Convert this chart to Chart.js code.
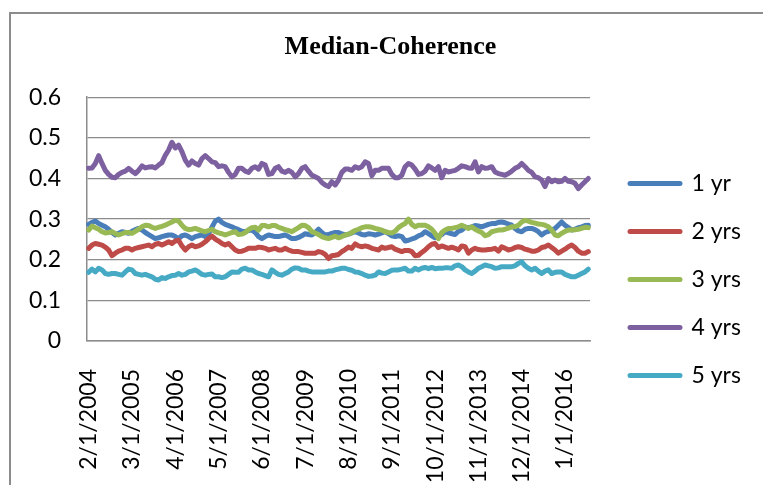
<!DOCTYPE html>
<html>
<head>
<meta charset="utf-8">
<script src="https://cdn.jsdelivr.net/npm/chart.js@4.4.1/dist/chart.umd.min.js"></script>
<style>
html, body { margin: 0; padding: 0; background: #fff; }
#frame { position: absolute; left: 9px; top: 12px; width: 800px; height: 500px;
  border-left: 2px solid #8c8c8c; border-top: 2px solid #8c8c8c; }
#c { position: absolute; left: 0; top: 0; }
</style>
</head>
<body>
<div id="frame"></div>
<canvas id="c" width="763" height="485"></canvas>
<script>
// monthly observations, Feb 2004 .. Aug 2016
var labels = [];
for (var i = 0; i < 151; i++) {
  labels.push(((1 + i) % 12 + 1) + '/1/' + (2004 + Math.floor((1 + i) / 12)));
}
var labelEvery = 13;

var seriesNames = ['1 yr', '2 yrs', '3 yrs', '4 yrs', '5 yrs'];
var seriesColors = ['#4A7EBB', '#BE4B48', '#98B954', '#7D60A0', '#46AAC5'];

var yr1 = [0.287,0.292,0.295,0.289,0.285,0.281,0.275,0.267,0.261,0.265,0.269,0.267,0.265,0.270,0.274,0.277,0.273,0.267,0.262,0.257,0.252,0.254,0.257,0.259,0.261,0.261,0.257,0.252,0.259,0.261,0.257,0.252,0.257,0.259,0.261,0.257,0.264,0.280,
  0.295,0.300,0.292,0.287,0.284,0.281,0.277,0.274,0.270,0.269,0.272,0.273,0.267,0.257,0.252,0.257,0.261,0.259,0.257,0.257,0.259,0.261,0.257,0.252,0.252,0.255,0.259,0.264,0.262,0.261,0.267,0.275,0.267,0.261,0.262,0.265,0.267,
  0.267,0.264,0.261,0.263,0.266,0.269,0.266,0.262,0.261,0.264,0.263,0.261,0.263,0.266,0.269,0.264,0.259,0.257,0.259,0.257,0.246,0.248,0.251,0.254,0.259,0.262,0.269,0.264,0.259,0.254,0.258,0.262,0.269,0.266,0.264,0.262,0.270,0.273,
  0.280,0.279,0.281,0.284,0.283,0.281,0.284,0.287,0.289,0.289,0.292,0.293,0.291,0.288,0.285,0.277,0.271,0.269,0.275,0.277,0.277,0.274,0.269,0.261,0.267,0.270,0.273,0.277,0.285,0.293,0.285,0.279,0.273,0.275,0.279,0.281,0.284,0.285];

var yrs2 = [0.228,0.236,0.240,0.238,0.236,0.231,0.224,0.210,0.216,0.221,0.224,0.228,0.228,0.224,0.228,0.230,0.232,0.234,0.236,0.232,0.238,0.240,0.236,0.240,0.244,0.240,0.246,0.248,0.234,0.224,0.232,0.236,0.232,0.234,0.238,0.244,0.252,0.258,
  0.251,0.246,0.240,0.236,0.240,0.232,0.224,0.220,0.221,0.224,0.228,0.228,0.228,0.231,0.230,0.228,0.224,0.226,0.228,0.224,0.224,0.228,0.224,0.221,0.220,0.220,0.218,0.216,0.216,0.216,0.216,0.220,0.218,0.213,0.203,0.210,0.211,
  0.213,0.220,0.225,0.231,0.228,0.239,0.234,0.232,0.234,0.232,0.228,0.226,0.224,0.231,0.228,0.230,0.232,0.226,0.223,0.220,0.223,0.223,0.220,0.210,0.211,0.218,0.224,0.232,0.238,0.240,0.230,0.234,0.231,0.228,0.231,0.228,0.224,0.234,
  0.232,0.216,0.224,0.228,0.225,0.224,0.224,0.225,0.226,0.228,0.221,0.232,0.228,0.224,0.226,0.230,0.232,0.230,0.226,0.224,0.221,0.221,0.224,0.230,0.232,0.236,0.230,0.224,0.216,0.221,0.226,0.232,0.236,0.230,0.221,0.216,0.216,0.220];

var yrs3 = [0.273,0.283,0.279,0.275,0.269,0.266,0.267,0.269,0.264,0.261,0.264,0.267,0.267,0.265,0.270,0.275,0.281,0.285,0.284,0.280,0.277,0.280,0.282,0.285,0.289,0.293,0.297,0.295,0.285,0.277,0.274,0.275,0.277,0.274,0.271,0.269,0.272,0.275,
  0.269,0.266,0.264,0.261,0.264,0.267,0.269,0.262,0.263,0.267,0.274,0.279,0.280,0.273,0.284,0.284,0.281,0.284,0.284,0.280,0.277,0.274,0.272,0.269,0.274,0.279,0.285,0.284,0.279,0.269,0.266,0.262,0.257,0.254,0.252,0.255,0.258,
  0.254,0.257,0.261,0.263,0.267,0.272,0.275,0.279,0.281,0.281,0.280,0.277,0.275,0.273,0.269,0.267,0.266,0.270,0.279,0.285,0.289,0.300,0.287,0.281,0.285,0.285,0.285,0.281,0.275,0.265,0.252,0.267,0.273,0.277,0.277,0.279,0.281,0.285,
  0.281,0.277,0.281,0.275,0.271,0.267,0.259,0.262,0.269,0.271,0.273,0.273,0.275,0.278,0.281,0.281,0.285,0.293,0.297,0.295,0.292,0.290,0.288,0.287,0.285,0.281,0.273,0.261,0.259,0.265,0.270,0.273,0.273,0.274,0.275,0.277,0.280,0.279];

var yrs4 = [0.425,0.426,0.437,0.456,0.437,0.420,0.410,0.403,0.402,0.410,0.415,0.418,0.425,0.418,0.412,0.420,0.431,0.426,0.428,0.429,0.426,0.433,0.439,0.457,0.470,0.489,0.475,0.482,0.466,0.445,0.433,0.443,0.437,0.433,0.449,0.456,0.449,0.441,
  0.439,0.429,0.431,0.429,0.415,0.404,0.410,0.425,0.425,0.418,0.415,0.425,0.429,0.423,0.437,0.433,0.410,0.412,0.425,0.429,0.418,0.415,0.420,0.415,0.404,0.412,0.425,0.429,0.418,0.408,0.404,0.400,0.390,0.384,0.380,0.392,0.384,
  0.396,0.415,0.423,0.423,0.420,0.429,0.425,0.429,0.441,0.437,0.407,0.420,0.420,0.425,0.425,0.425,0.410,0.402,0.402,0.408,0.429,0.437,0.433,0.423,0.410,0.412,0.418,0.431,0.426,0.420,0.429,0.402,0.420,0.416,0.418,0.420,0.425,0.431,
  0.429,0.426,0.425,0.441,0.416,0.429,0.425,0.426,0.429,0.416,0.412,0.410,0.408,0.412,0.418,0.425,0.429,0.437,0.429,0.420,0.415,0.404,0.402,0.396,0.380,0.400,0.392,0.396,0.392,0.393,0.400,0.393,0.392,0.388,0.375,0.384,0.392,0.400];

var yrs5 = [0.169,0.177,0.170,0.179,0.175,0.166,0.164,0.166,0.166,0.164,0.162,0.170,0.177,0.175,0.166,0.164,0.162,0.164,0.161,0.158,0.152,0.150,0.156,0.154,0.158,0.161,0.162,0.166,0.162,0.164,0.170,0.172,0.175,0.170,0.164,0.162,0.164,0.165,
  0.158,0.158,0.156,0.158,0.164,0.170,0.169,0.169,0.177,0.179,0.175,0.175,0.170,0.166,0.164,0.161,0.158,0.175,0.169,0.164,0.162,0.166,0.170,0.177,0.180,0.179,0.175,0.175,0.172,0.170,0.170,0.170,0.170,0.170,0.172,0.172,0.175,
  0.177,0.179,0.179,0.176,0.174,0.170,0.169,0.166,0.162,0.159,0.160,0.162,0.170,0.167,0.166,0.170,0.174,0.175,0.175,0.177,0.179,0.172,0.172,0.179,0.175,0.179,0.181,0.178,0.181,0.178,0.179,0.179,0.180,0.180,0.179,0.185,0.187,0.183,
  0.175,0.170,0.166,0.172,0.179,0.183,0.187,0.185,0.183,0.179,0.180,0.183,0.183,0.183,0.183,0.185,0.191,0.195,0.185,0.179,0.175,0.179,0.172,0.166,0.172,0.175,0.166,0.169,0.170,0.170,0.164,0.161,0.158,0.158,0.162,0.166,0.170,0.177];

var seriesData = [yr1, yrs2, yrs3, yrs4, yrs5];

var tickFont = { family: 'Lato', size: 23 };

// excel-like legend placement: fixed legend width, then slide it into place
var legendNudge = {
  id: 'legendNudge',
  beforeLayout: function(chart) {
    var lg = chart.legend;
    if (lg && !lg._fixedWidth) {
      var fit = lg.fit;
      lg.fit = function() { fit.call(this); this.width = 173; };
      lg._fixedWidth = true;
    }
  },
  afterLayout: function(chart) {
    var lg = chart.legend;
    lg.left += 15; lg.right += 15; lg.top += 37; lg.bottom += 37;
    var t = chart.titleBlock;
    t.left += 9; t.right += 9;
  }
};

var datasets = seriesNames.map(function(name, k) {
  return {
    label: name,
    data: seriesData[k],
    borderColor: seriesColors[k],
    backgroundColor: seriesColors[k],
    borderWidth: 5,
    borderJoinStyle: 'round',
    borderCapStyle: 'round',
    pointRadius: 0,
    tension: 0,
    order: seriesNames.length - k
  };
});

var chart = new Chart(document.getElementById('c'), {
  type: 'line',
  data: { labels: labels, datasets: datasets },
  plugins: [legendNudge],
  options: {
    responsive: false,
    animation: false,
    layout: { padding: 0 },
    plugins: {
      title: {
        display: true,
        text: 'Median-Coherence',
        color: '#000',
        font: { family: "'Liberation Serif', 'Times New Roman', serif", size: 26, weight: 'bold' },
        padding: { top: 32, bottom: 34 }
      },
      legend: {
        position: 'right',
        labels: {
          color: '#000',
          font: tickFont,
          usePointStyle: true,
          pointStyle: 'line',
          pointStyleWidth: 50,
          padding: 25,
          sort: function(a, b) { return a.datasetIndex - b.datasetIndex; },
          generateLabels: function(c) {
            return Chart.defaults.plugins.legend.labels.generateLabels(c).map(function(l) {
              l.lineWidth = 5;
              l.lineCap = 'round';
              l.strokeStyle = seriesColors[l.datasetIndex];
              return l;
            });
          }
        }
      },
      tooltip: { enabled: false }
    },
    scales: {
      x: {
        offset: true,
        grid: { display: false },
        border: { display: true, color: '#8c8c8c', width: 1.5 },
        ticks: {
          autoSkip: false,
          maxRotation: 90,
          minRotation: 90,
          padding: 20,
          color: '#000',
          font: tickFont,
          callback: function(v, idx) { return idx % labelEvery === 0 ? this.getLabelForValue(v) : ''; }
        },
        afterFit: function(s) { s.height = 144; }
      },
      y: {
        min: 0,
        max: 0.6,
        grid: { color: '#8c8c8c', lineWidth: 1.3, drawTicks: false },
        border: { color: '#8c8c8c', width: 1.5 },
        ticks: {
          stepSize: 0.1,
          padding: 26,
          color: '#000',
          font: tickFont,
          callback: function(v) { return v === 0 ? '0' : v.toFixed(1); }
        },
        afterFit: function(s) { s.width = 87; }
      }
    }
  }
});
</script>
</body>
</html>
